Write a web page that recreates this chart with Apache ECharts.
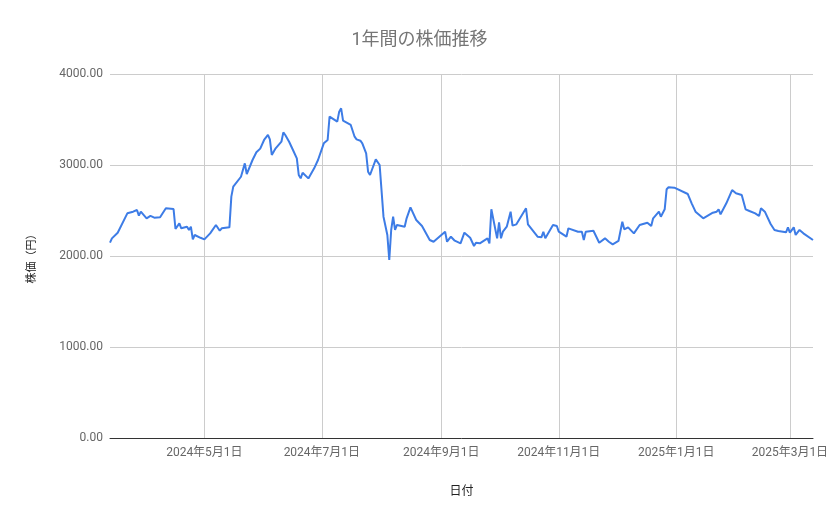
<!DOCTYPE html>
<html>
<head>
<meta charset="utf-8">
<script src="https://cdn.jsdelivr.net/npm/echarts@6/dist/echarts.min.js"></script>
<style>
html,body{margin:0;padding:0;background:#fff;}
#chart{width:839px;height:519px;}
</style>
</head>
<body>
<div id="chart"></div>
<script>
const dates = [
"2024-03-13","2024-03-14","2024-03-17","2024-03-22","2024-03-25","2024-03-26","2024-03-27","2024-03-28","2024-03-29",
"2024-04-01","2024-04-03","2024-04-05","2024-04-08","2024-04-11","2024-04-15","2024-04-16","2024-04-18","2024-04-19",
"2024-04-22","2024-04-23","2024-04-24","2024-04-25","2024-04-26","2024-04-29","2024-05-01","2024-05-04","2024-05-07",
"2024-05-09","2024-05-10","2024-05-14","2024-05-15","2024-05-16","2024-05-20","2024-05-22","2024-05-23","2024-05-26",
"2024-05-28","2024-05-30","2024-06-01","2024-06-03","2024-06-04","2024-06-05","2024-06-07","2024-06-10","2024-06-11",
"2024-06-12","2024-06-14","2024-06-16","2024-06-18","2024-06-19","2024-06-20","2024-06-21","2024-06-24","2024-06-27",
"2024-06-29","2024-07-02","2024-07-04","2024-07-05","2024-07-09","2024-07-10","2024-07-11","2024-07-12","2024-07-16",
"2024-07-18","2024-07-19","2024-07-21","2024-07-22","2024-07-24","2024-07-25","2024-07-26","2024-07-29","2024-07-30",
"2024-07-31","2024-08-02","2024-08-04","2024-08-05","2024-08-06","2024-08-07","2024-08-08","2024-08-09","2024-08-13",
"2024-08-14","2024-08-16","2024-08-19","2024-08-20","2024-08-22","2024-08-23","2024-08-26","2024-08-28","2024-08-31",
"2024-09-03","2024-09-04","2024-09-06","2024-09-08","2024-09-11","2024-09-13","2024-09-16","2024-09-18","2024-09-19",
"2024-09-21","2024-09-25","2024-09-26","2024-09-27","2024-09-30","2024-10-01","2024-10-02","2024-10-03","2024-10-05",
"2024-10-07","2024-10-08","2024-10-10","2024-10-15","2024-10-16","2024-10-21","2024-10-23","2024-10-24","2024-10-25",
"2024-10-29","2024-10-31","2024-11-01","2024-11-05","2024-11-06","2024-11-11","2024-11-13","2024-11-14","2024-11-15",
"2024-11-19","2024-11-22","2024-11-25","2024-11-27","2024-11-28","2024-11-29","2024-12-02","2024-12-04","2024-12-05",
"2024-12-07","2024-12-10","2024-12-13","2024-12-17","2024-12-19","2024-12-20","2024-12-23","2024-12-24","2024-12-26",
"2024-12-27","2024-12-28","2024-12-31","2025-01-07","2025-01-09","2025-01-11","2025-01-15","2025-01-16","2025-01-20",
"2025-01-22","2025-01-23","2025-01-24","2025-01-27","2025-01-28","2025-01-30","2025-02-01","2025-02-04","2025-02-06",
"2025-02-08","2025-02-11","2025-02-13","2025-02-14","2025-02-16","2025-02-19","2025-02-21","2025-02-23","2025-02-27",
"2025-02-28","2025-03-01","2025-03-03","2025-03-04","2025-03-06","2025-03-08","2025-03-13"
];
const prices = [
2146,2194,2256,2469,2487,2469,2505,2443,2487,
2414,2440,2421,2425,2524,2516,2297,2359,2304,
2322,2286,2322,2183,2231,2200,2183,2249,2341,
2278,2304,2315,2652,2762,2871,3018,2901,3055,
3140,3180,3275,3330,3282,3110,3183,3256,3359,
3330,3256,3165,3073,2890,2853,2915,2853,2963,
3055,3238,3275,3531,3476,3586,3623,3487,3440,
3311,3282,3267,3238,3128,2926,2890,3062,3055,
3000,2432,2231,1956,2286,2432,2286,2341,2322,
2414,2535,2396,2414,2330,2315,2176,2157,2212,
2267,2157,2212,2168,2139,2256,2201,2110,2146,
2139,2194,2139,2513,2194,2370,2194,2267,2322,
2487,2334,2348,2524,2348,2212,2205,2267,2194,
2341,2330,2267,2212,2304,2267,2267,2176,2267,
2278,2146,2194,2157,2176,2128,2165,2377,2293,
2315,2249,2341,2366,2330,2414,2487,2432,2513,
2733,2755,2751,2681,2579,2487,2414,2396,2476,
2487,2513,2458,2579,2590,2725,2689,2670,2513,
2495,2469,2440,2524,2487,2352,2286,2275,2260,
2315,2256,2315,2231,2286,2249,2176
];
const tickDates = ["2024-05-01","2024-07-01","2024-09-01","2024-11-01","2025-01-01","2025-03-01"];
const yTicks = [0,1000,2000,3000,4000];

function ts(s){ const p=s.split('-').map(Number); return new Date(p[0],p[1]-1,p[2]).getTime(); }
const seriesData = dates.map((d,i)=>[ts(d), prices[i]]);
const tickValues = tickDates.map(ts);

const FONT = "Roboto, 'Noto Sans CJK JP', sans-serif";
const chart = echarts.init(document.getElementById('chart'), null, {renderer:'canvas'});
chart.setOption({
  backgroundColor:'#ffffff',
  animation:false,
  title:{
    text:'1年間の株価推移',
    left:'center',
    top:27,
    textStyle:{fontFamily:FONT,fontSize:18,fontWeight:'normal',color:'#757575'}
  },
  grid:{left:110,right:26,top:74,bottom:81,containLabel:false},
  xAxis:{
    type:'value',
    min:ts("2024-03-13"),
    max:ts("2025-03-13"),
    name:'日付',
    nameLocation:'middle',
    nameGap:48,
    nameTextStyle:{fontFamily:FONT,fontSize:12,color:'#222222'},
    axisLine:{show:true,onZero:false,lineStyle:{color:'#333333',width:1}},
    axisTick:{show:false,customValues:tickValues},
    axisLabel:{
      customValues:tickValues,
      margin:9,
      fontFamily:FONT,fontSize:12,color:'#666666',
      formatter:function(v){const d=new Date(v);return d.getFullYear()+'年'+(d.getMonth()+1)+'月'+d.getDate()+'日';}
    },
    splitLine:{show:true,lineStyle:{color:'#cccccc',width:1}}
  },
  yAxis:{
    type:'value',
    min:yTicks[0],
    max:yTicks[yTicks.length-1],
    interval:1000,
    name:'株価（円）',
    nameLocation:'middle',
    nameGap:72,
    nameRotate:90,
    nameTextStyle:{fontFamily:FONT,fontSize:11,color:'#222222'},
    axisLine:{show:false},
    axisTick:{show:false},
    axisLabel:{
      margin:7,
      fontFamily:FONT,fontSize:12,color:'#666666',
      formatter:function(v){return v.toFixed(2);}
    },
    splitLine:{show:true,lineStyle:{color:'#cccccc',width:1}}
  },
  series:[{
    type:'line',
    data:seriesData,
    showSymbol:false,
    symbol:'none',
    smooth:false,
    lineStyle:{color:'#3d7ce6',width:2},
    itemStyle:{color:'#3d7ce6'}
  }]
});
</script>
</body>
</html>
